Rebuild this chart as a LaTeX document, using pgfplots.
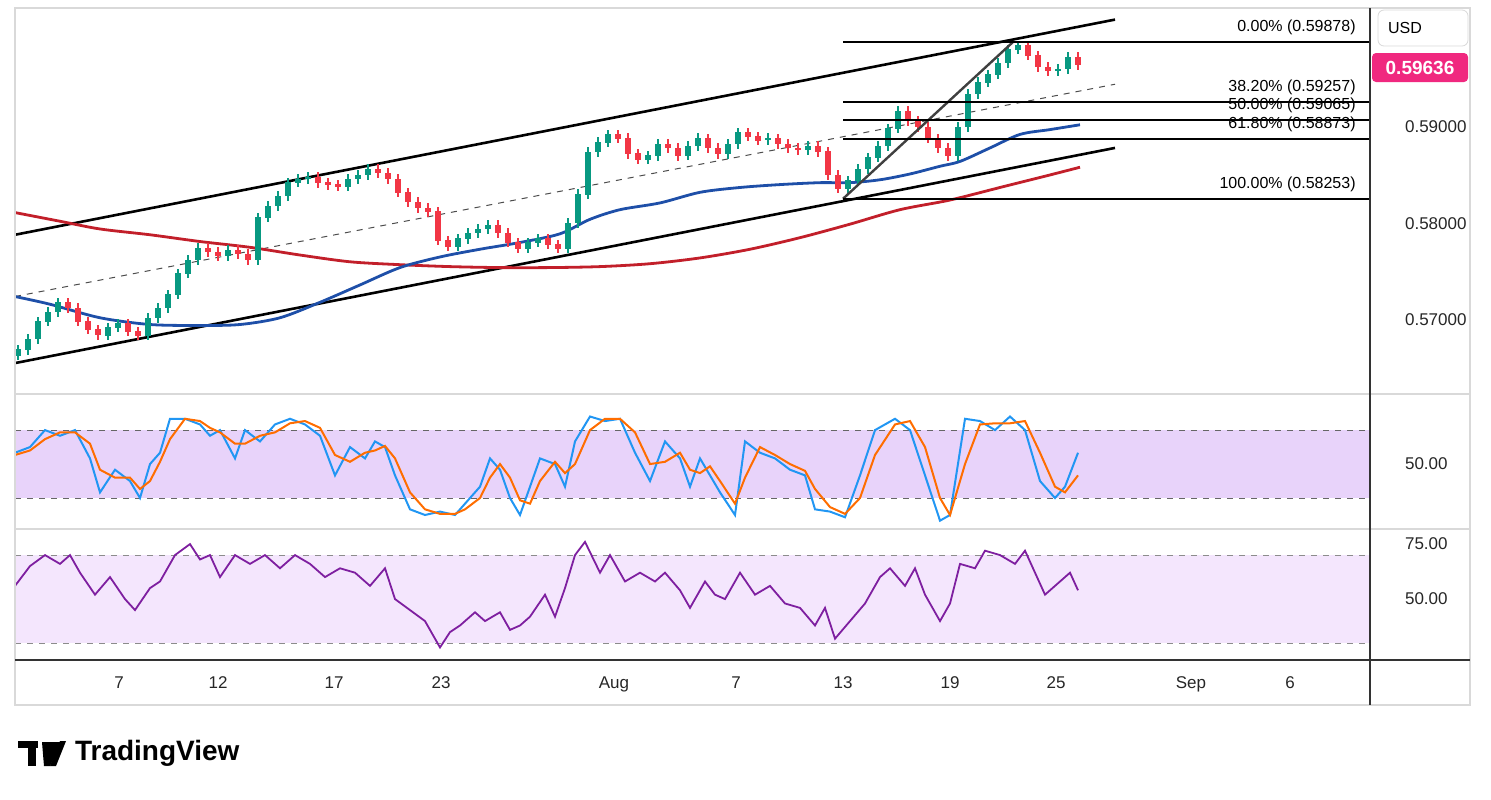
\documentclass[border=0pt]{standalone}
\usepackage{pgfplots}
\pgfplotsset{compat=1.18}
\usepackage{pgfplotstable}
\usepackage{fontspec}
\setmainfont{Liberation Sans}
\definecolor{up}{HTML}{089981}
\definecolor{dn}{HTML}{F23645}
\definecolor{maBlue}{HTML}{1E4FA8}
\definecolor{maRed}{HTML}{C21F2A}
\definecolor{kcol}{HTML}{2196F3}
\definecolor{dcol}{HTML}{FF6D00}
\definecolor{sfill}{HTML}{E8D3FA}
\definecolor{rfill}{HTML}{F4E6FD}
\definecolor{rsi}{HTML}{7E1FA0}
\definecolor{tag}{HTML}{F0287F}
\definecolor{frame}{HTML}{D9D9D9}
\pgfplotstableread{
x o c
18 .5663 .5669
28 .5669 .5680
38 .5680 .5698
48 .5698 .5708
58 .5708 .5718
68 .5718 .5712
78 .5712 .5698
88 .5698 .5690
98 .5690 .5684
108 .5684 .5692
118 .5692 .5696
128 .5696 .5688
138 .5688 .5684
148 .5684 .5702
158 .5702 .5712
168 .5712 .5726
178 .5726 .5748
188 .5748 .5762
198 .5762 .5774
208 .5774 .5770
218 .5770 .5766
228 .5766 .5772
238 .5772 .5768
248 .5768 .5762
258 .5762 .5806
268 .5806 .5818
278 .5818 .5828
288 .5828 .5842
298 .5842 .5846
308 .5846 .5848
318 .5848 .5842
328 .5842 .5840
338 .5840 .5838
348 .5838 .5846
358 .5846 .5850
368 .5850 .5856
378 .5856 .5852
388 .5852 .5846
398 .5846 .5832
408 .5832 .5822
418 .5822 .5816
428 .5816 .5812
438 .5812 .5782
448 .5782 .5776
458 .5776 .5784
468 .5784 .5790
478 .5790 .5794
488 .5794 .5798
498 .5798 .5790
508 .5790 .5780
518 .5780 .5774
528 .5774 .5780
538 .5780 .5784
548 .5784 .5778
558 .5778 .5774
568 .5774 .5800
578 .5800 .5830
588 .5830 .5874
598 .5874 .5884
608 .5884 .5892
618 .5892 .5888
628 .5888 .5872
638 .5872 .5866
648 .5866 .5870
658 .5870 .5882
668 .5882 .5878
678 .5878 .5870
688 .5870 .5880
698 .5880 .5888
708 .5888 .5878
718 .5878 .5872
728 .5872 .5882
738 .5882 .5894
748 .5894 .5890
758 .5890 .5886
768 .5886 .5888
778 .5888 .5882
788 .5882 .5878
798 .5878 .5876
808 .5876 .5880
818 .5880 .5874
828 .5874 .5850
838 .5850 .5836
848 .5836 .5844
858 .5844 .5856
868 .5856 .5868
878 .5868 .5880
888 .5880 .5898
898 .5898 .5916
908 .5916 .5906
918 .5906 .5900
928 .5900 .5888
938 .5888 .5878
948 .5878 .5870
958 .5870 .5900
968 .5900 .5934
978 .5934 .5946
988 .5946 .5954
998 .5954 .5966
1008 .5966 .5980
1018 .5980 .5984
1028 .5984 .5974
1038 .5974 .5962
1048 .5962 .5958
1058 .5958 .5960
1068 .5960 .5972
1078 .5972 .5964
}\candles
\pgfplotsset{
  panel/.style={scale only axis, width=677.5pt, xmin=15, xmax=1370,
    axis line style={draw=none}, major tick length=0pt, clip=false,
    yticklabel pos=right, xticklabels={},
    yticklabel style={anchor=west, xshift=14pt, font=\fontsize{8.5}{10}\selectfont, text=black!85},
    /pgf/number format/assume math mode=true},
  wick/.style={draw=none, forget plot, error bars/.cd, y dir=both, y explicit,
    error mark=none, error bar style={draw=#1, line width=0.6pt}, /pgfplots/.cd},
  body/.style={draw=none, forget plot, error bars/.cd, y dir=both, y explicit,
    error mark=none, error bar style={draw=#1, line width=2.8pt}, /pgfplots/.cd},
}
\tikzset{fiblab/.style={anchor=south east, font=\fontsize{8}{9}\selectfont, inner sep=1pt}}
\begin{document}
\begin{tikzpicture}
\path[use as bounding box] (0,0) rectangle (745.5pt,-399.5pt);
% main price panel
\begin{axis}[panel, at={(7.5pt,-196.5pt)}, anchor=south west, height=192.5pt,
  ymin=0.5624, ymax=0.6023, ytick={0.57,0.58,0.59}, yticklabels={0.57000,0.58000,0.59000}]
% channel
\addplot[black, line width=1.3pt] coordinates {(15,0.5788) (1115,0.6011)};
\addplot[black, line width=1.3pt] coordinates {(15,0.5655) (1115,0.5878)};
\addplot[black!70, dashed, line width=0.5pt] coordinates {(15,0.5724) (1115,0.5944)};
% moving averages
\addplot[maRed, line width=1.4pt, smooth] coordinates {(15,0.5811)(60,0.5802)(100,0.5794)(150,0.5788)(200,0.5781)(250,0.5775)(300,0.5767)(350,0.5760)(400,0.5757)(450,0.5755)(500,0.5754)(550,0.5754)(600,0.5755)(650,0.5758)(700,0.5764)(750,0.5773)(800,0.5785)(850,0.5799)(900,0.5814)(950,0.5824)(1000,0.5837)(1050,0.5850)(1080,0.5858)};
\addplot[maBlue, line width=1.4pt, smooth] coordinates {(15,0.5724)(50,0.5716)(100,0.5702)(150,0.5695)(200,0.5694)(240,0.5695)(280,0.5702)(320,0.5718)(360,0.5736)(400,0.5754)(440,0.5765)(480,0.5773)(520,0.5780)(560,0.5789)(590,0.5804)(620,0.5814)(660,0.5821)(700,0.5832)(740,0.5837)(780,0.5840)(820,0.5842)(850,0.5842)(880,0.5845)(910,0.5851)(940,0.5859)(960,0.5864)(990,0.5878)(1020,0.5892)(1050,0.5897)(1080,0.5902)};
% candles
\addplot[wick=up, restrict expr to domain={\thisrow{c}-\thisrow{o}}{0:1}] table[x=x, y expr={(\thisrow{o}+\thisrow{c})/2}, y error expr={abs(\thisrow{c}-\thisrow{o})/2+0.0005}] \candles;
\addplot[body=up, restrict expr to domain={\thisrow{c}-\thisrow{o}}{0:1}] table[x=x, y expr={(\thisrow{o}+\thisrow{c})/2}, y error expr={abs(\thisrow{c}-\thisrow{o})/2+0.00003}] \candles;
\addplot[wick=dn, restrict expr to domain={\thisrow{c}-\thisrow{o}}{-1:-0.000001}] table[x=x, y expr={(\thisrow{o}+\thisrow{c})/2}, y error expr={abs(\thisrow{c}-\thisrow{o})/2+0.0005}] \candles;
\addplot[body=dn, restrict expr to domain={\thisrow{c}-\thisrow{o}}{-1:-0.000001}] table[x=x, y expr={(\thisrow{o}+\thisrow{c})/2}, y error expr={abs(\thisrow{c}-\thisrow{o})/2+0.00003}] \candles;
% fibonacci
\addplot[black!75, line width=1.2pt] coordinates {(843,0.58253) (1013,0.59878)};
\addplot[black, line width=1pt] coordinates {(843,0.59878) (1370,0.59878)};
\addplot[black, line width=1pt] coordinates {(843,0.59257) (1370,0.59257)};
\addplot[black, line width=1pt] coordinates {(843,0.59065) (1370,0.59065)};
\addplot[black, line width=1pt] coordinates {(843,0.58873) (1370,0.58873)};
\addplot[black, line width=1pt] coordinates {(843,0.58253) (1370,0.58253)};
\node[fiblab] at (axis cs:1358,0.59928) {0.00\% (0.59878)};
\node[fiblab] at (axis cs:1358,0.59307) {38.20\% (0.59257)};
\node[fiblab] at (axis cs:1358,0.59115) {50.00\% (0.59065)};
\node[fiblab] at (axis cs:1358,0.58923) {61.80\% (0.58873)};
\node[fiblab] at (axis cs:1358,0.58303) {100.00\% (0.58253)};
\end{axis}
% stochastic
\begin{axis}[panel, at={(7.5pt,-264pt)}, anchor=south west, height=66.5pt,
  ymin=-6.5, ymax=111, ytick={50}, yticklabels={50.00}]
\addplot[fill=sfill, draw=none] coordinates {(15,20) (1370,20) (1370,80) (15,80)} -- cycle;
\addplot[black!60, dashed, line width=0.4pt] coordinates {(15,80) (1370,80)};
\addplot[black!60, dashed, line width=0.4pt] coordinates {(15,20) (1370,20)};
\addplot[kcol, line width=1pt] coordinates {(15,60)(30,65)(45,80)(60,75)(75,80)(90,55)(100,25)(115,45)(130,35)(140,20)(150,50)(160,60)(170,90)(185,90)(200,85)(210,75)(220,80)(235,55)(245,80)(260,70)(275,85)(290,90)(305,85)(320,75)(335,40)(350,65)(365,55)(375,70)(385,65)(395,40)(410,10)(425,5)(440,8)(455,5)(465,15)(480,30)(490,55)(500,45)(510,20)(520,5)(530,30)(540,55)(555,50)(565,30)(575,70)(590,92)(605,88)(620,90)(635,60)(650,35)(665,70)(680,55)(690,30)(700,55)(710,40)(720,25)(735,5)(745,70)(760,60)(775,55)(790,45)(805,40)(815,10)(830,8)(845,3)(860,40)(875,80)(895,90)(910,80)(925,40)(940,0)(950,5)(965,90)(980,88)(995,80)(1010,92)(1025,80)(1040,35)(1055,20)(1065,30)(1078,60)};
\addplot[dcol, line width=1pt] coordinates {(15,58)(30,62)(45,72)(60,78)(75,78)(90,68)(100,45)(115,38)(130,38)(140,28)(150,35)(160,52)(170,72)(185,90)(200,88)(210,82)(220,78)(235,68)(245,68)(260,75)(275,78)(290,86)(305,88)(320,82)(335,58)(350,52)(365,60)(375,62)(385,66)(395,55)(410,25)(425,10)(440,6)(455,6)(465,10)(480,20)(490,38)(500,50)(510,38)(520,18)(530,15)(540,35)(555,52)(565,42)(575,50)(590,80)(605,90)(620,90)(635,78)(650,50)(665,52)(680,60)(690,45)(700,42)(710,48)(720,35)(735,15)(745,38)(760,65)(775,58)(790,50)(805,44)(815,28)(830,12)(845,6)(860,20)(875,58)(895,85)(910,88)(925,65)(940,20)(950,5)(965,50)(980,85)(995,86)(1010,86)(1025,88)(1040,60)(1055,30)(1065,25)(1078,40)};
\end{axis}
% RSI
\begin{axis}[panel, at={(7.5pt,-330pt)}, anchor=south west, height=65pt,
  ymin=22.3, ymax=81.4, ytick={50,75}, yticklabels={50.00,75.00},
  xtick={119,218,334,441,614,736,843,950,1056,1191,1290},
  xticklabels={7,12,17,23,Aug,7,13,19,25,Sep,6},
  xticklabel style={font=\fontsize{8.5}{10}\selectfont, text=black!85, yshift=-5pt}]
\addplot[fill=rfill, draw=none] coordinates {(15,30) (1370,30) (1370,70) (15,70)} -- cycle;
\addplot[black!45, dashed, line width=0.4pt] coordinates {(15,70) (1370,70)};
\addplot[black!45, dashed, line width=0.4pt] coordinates {(15,30) (1370,30)};
\addplot[rsi, line width=0.9pt] coordinates {(15,56)(30,65)(45,70)(60,66)(70,70)(80,62)(95,52)(110,60)(125,50)(135,45)(150,55)(160,58)(175,70)(190,75)(200,68)(210,70)(220,60)(235,70)(250,66)(265,70)(280,64)(295,70)(310,66)(325,60)(340,64)(355,62)(370,56)(385,64)(395,50)(410,45)(425,40)(440,28)(450,35)(460,38)(475,44)(485,40)(500,44)(510,36)(520,38)(530,42)(545,52)(555,42)(565,55)(575,70)(585,76)(600,62)(610,70)(625,58)(640,62)(655,58)(665,62)(680,54)(690,46)(705,58)(715,52)(725,50)(740,62)(755,52)(770,56)(785,48)(800,46)(815,38)(825,46)(835,32)(850,40)(865,48)(880,60)(890,64)(905,56)(915,64)(925,52)(940,40)(950,48)(960,66)(975,64)(985,72)(1000,70)(1015,66)(1025,72)(1035,62)(1045,52)(1055,56)(1070,62)(1078,54)};
\end{axis}
% frame and decorations (pixel units)
\begin{scope}[x=0.5pt,y=-0.5pt]
\draw[frame, line width=0.6pt] (15,8) rectangle (1470,705);
\draw[frame, line width=0.6pt] (15,394) -- (1470,394);
\draw[frame, line width=0.6pt] (15,529) -- (1470,529);
\draw[black!80, line width=0.6pt] (15,660) -- (1470,660);
\draw[black!80, line width=0.6pt] (1370,8) -- (1370,705);
\draw[frame, rounded corners=3pt, fill=white] (1378,10) rectangle (1468,46);
\node[font=\fontsize{8}{9}\selectfont] at (1405,28) {USD};
\fill[tag, rounded corners=2pt] (1372,53) rectangle (1468,82);
\node[font=\bfseries\fontsize{9.5}{11}\selectfont, text=white] at (1420,68) {0.59636};
\node[anchor=west, font=\bfseries\fontsize{14}{16}\selectfont] at (68,753) {TradingView};
\fill[black] (18,741) rectangle (38,748);
\fill[black] (28,741) rectangle (36,766);
\fill[black] (42,742) -- (62,742) -- (50,766) -- (44,766) -- cycle;
\fill[black] (60,741) -- (66,741) -- (56,766) -- (50,766) -- cycle;
\end{scope}
\end{tikzpicture}
\end{document}
